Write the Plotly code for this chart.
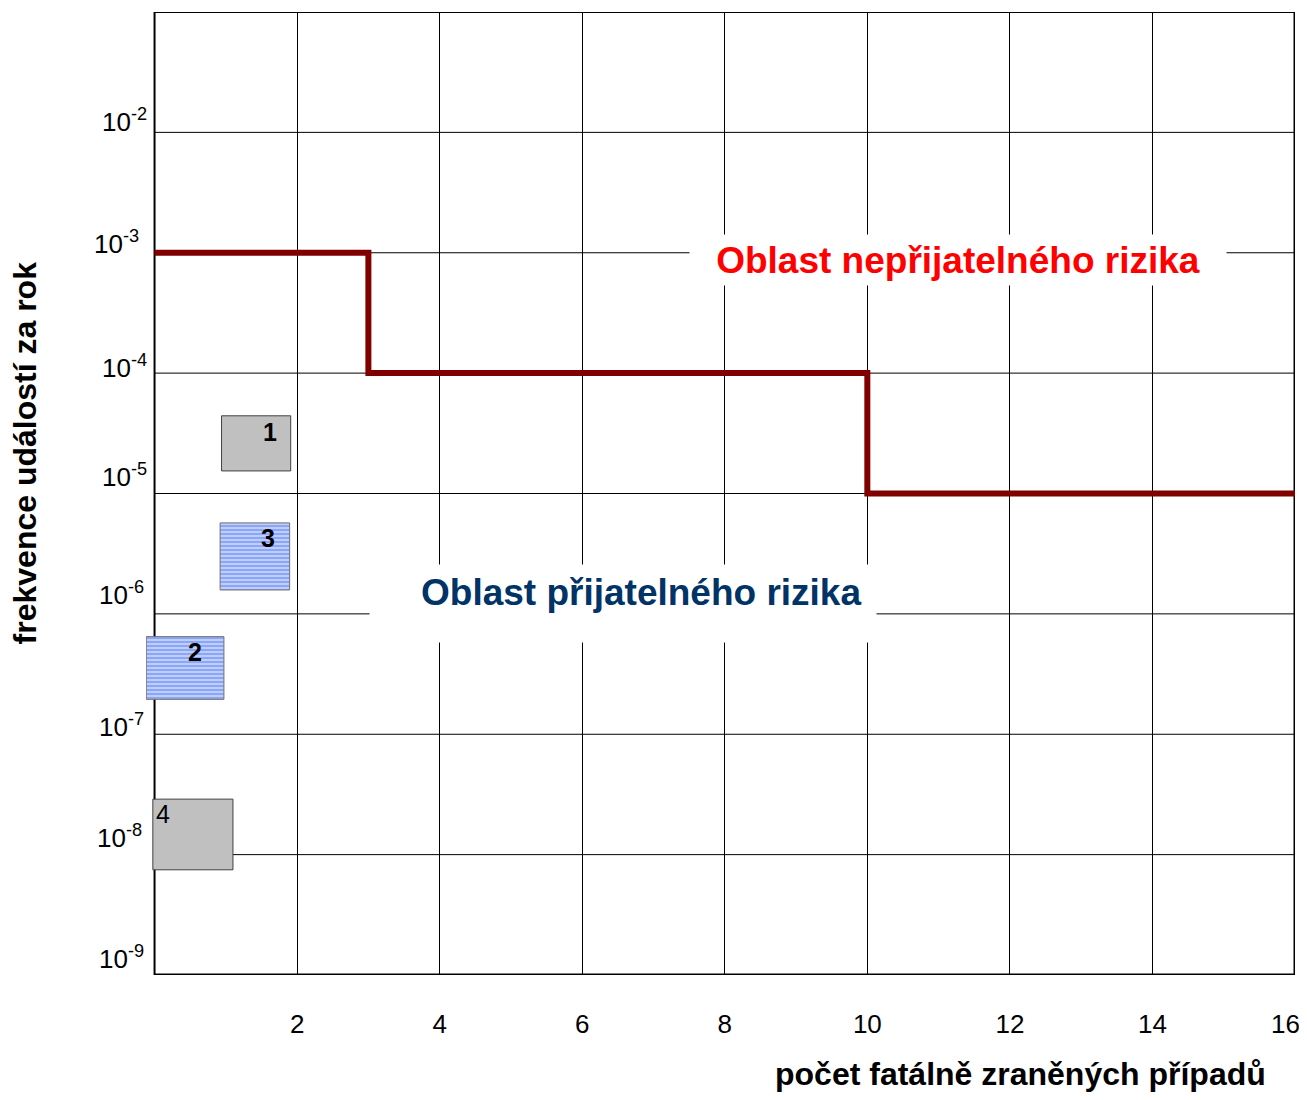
import math
import plotly.graph_objects as go

# ---------------- data ----------------
x_ticks = [2, 4, 6, 8, 10, 12, 14, 16]
x_tick_text = ["2", "4", "6", "8", "10", "12", "14", "16"]
y_decades = [-2, -3, -4, -5, -6, -7, -8, -9]          # labelled decades (10^k)
grid_decades = [-2, -3, -4, -5, -6, -7, -8]

# acceptability limit (step line)
limit_x = [0, 3, 10, 16]
limit_y = [1e-3, 1e-4, 1e-5, 1e-5]

# scenario boxes: label, x-range (fatalities), frequency range
box_labels = ["1", "3", "2", "4"]
box_x0 = [0.94, 0.92, -0.117, -0.024]
box_x1 = [1.91, 1.895, 0.973, 1.10]
box_f_low = [1.54e-5, 1.58e-6, 1.95e-7, 7.48e-9]
box_f_high = [4.42e-5, 5.70e-6, 6.47e-7, 2.89e-8]
box_kind = ["gray", "striped", "striped", "gray"]

unacceptable_text = "Oblast nepřijatelného rizika"
acceptable_text = "Oblast přijatelného rizika"
x_title = "počet fatálně zraněných případů"
y_title = "frekvence událostí za rok"

# ---------------- styles ----------------
FONT = "Arial, Liberation Sans, sans-serif"
# per-label fine offsets of y tick labels (px)
ytick_xshift = [-6, -14, -6, -6, -9, -9, -11, -9]
ytick_yshift = [12, 10, 7, 18, 20, 9, 18, 18]
# box-number label placement (px relative to box corner)
lab_anchor = ["right", "right", "right", "left"]
lab_xshift = [-21, -22, -29, 10]
lab_yshift = [-16, -15, -15, -15]
lab_bold = [True, True, True, False]

fig = go.Figure()

# scenario boxes
for i in range(len(box_labels)):
    xs = [box_x0[i], box_x1[i], box_x1[i], box_x0[i], box_x0[i]]
    ys = [box_f_low[i], box_f_low[i], box_f_high[i], box_f_high[i], box_f_low[i]]
    if box_kind[i] == "gray":
        fig.add_trace(go.Scatter(
            x=xs, y=ys, mode="lines", fill="toself",
            fillcolor="#c0c0c0", line=dict(color="#404040", width=1),
            hoverinfo="skip", showlegend=False))
    else:
        fig.add_trace(go.Scatter(
            x=xs, y=ys, mode="lines", fill="toself",
            fillcolor="#cfdcff",
            fillpattern=dict(shape="-", fgcolor="#3a66f0", bgcolor="#dde6ff",
                             size=4, solidity=0.7),
            line=dict(color="#707070", width=1),
            hoverinfo="skip", showlegend=False))

# limit step line
fig.add_trace(go.Scatter(
    x=limit_x, y=limit_y, mode="lines", line_shape="hv",
    line=dict(color="#800000", width=6), hoverinfo="skip", showlegend=False))

# horizontal grid lines + frame (drawn between grid and traces)
shapes = []
for k in grid_decades:
    shapes.append(dict(type="line", xref="x", yref="y", x0=0, x1=16,
                       y0=10 ** k, y1=10 ** k, layer="between",
                       line=dict(color="black", width=1)))
frame = [
    (0, 0, 1e-9, 1e-1, 2),
    (16, 16, 1e-9, 1e-1, 3),
    (0, 16, 1e-9, 1e-9, 3),
    (0, 16, 1e-1, 1e-1, 2),
]
for x0, x1, y0, y1, w in frame:
    shapes.append(dict(type="line", xref="x", yref="y", x0=x0, x1=x1,
                       y0=y0, y1=y1, layer="between",
                       line=dict(color="black", width=w)))

annotations = []
# y tick labels
for k, xs, ys in zip(y_decades, ytick_xshift, ytick_yshift):
    annotations.append(dict(
        x=0, y=k, xref="x", yref="y", text=f"10<sup>{k}</sup>",
        showarrow=False, xanchor="right", yanchor="middle",
        xshift=xs, yshift=ys, font=dict(family=FONT, size=26, color="black")))

# last x tick label (sits a little left of the right frame edge)
annotations.append(dict(
    x=x_ticks[-1], y=0, xref="x", yref="paper", text=x_tick_text[-1],
    showarrow=False, xanchor="center", yanchor="middle",
    xshift=-10, yshift=-49, font=dict(family=FONT, size=26, color="black")))

# box number labels
for i in range(len(box_labels)):
    xa = box_x1[i] if lab_anchor[i] == "right" else box_x0[i]
    txt = f"<b>{box_labels[i]}</b>" if lab_bold[i] else box_labels[i]
    annotations.append(dict(
        x=xa, y=math.log10(box_f_high[i]), xref="x", yref="y", text=txt,
        showarrow=False, xanchor="center", yanchor="middle",
        xshift=lab_xshift[i], yshift=lab_yshift[i],
        font=dict(family=FONT, size=25, color="black")))

# region labels
annotations.append(dict(
    x=11.27, y=-3.06, xref="x", yref="y", text=f"<b>{unacceptable_text}</b>",
    showarrow=False, bgcolor="white", width=536, height=50, borderpad=0,
    font=dict(family=FONT, size=37, color="#ff0000")))
annotations.append(dict(
    x=6.57, y=-5.913, xref="x", yref="y", text=" ",
    showarrow=False, bgcolor="white", width=506, height=77, borderpad=0,
    font=dict(family=FONT, size=20, color="white")))
annotations.append(dict(
    x=6.82, y=-5.826, xref="x", yref="y", text=f"<b>{acceptable_text}</b>",
    showarrow=False,
    font=dict(family=FONT, size=37, color="#003366")))

# axis titles
annotations.append(dict(
    x=0.7607, y=-0.1025, xref="paper", yref="paper", text=f"<b>{x_title}</b>",
    showarrow=False, xanchor="center", yanchor="middle",
    font=dict(family=FONT, size=32, color="black")))
annotations.append(dict(
    x=-0.105, y=0.542, xref="paper", yref="paper", text=f"<b>{y_title}</b>",
    showarrow=False, xanchor="center", yanchor="middle", textangle=-90,
    font=dict(family=FONT, size=32, color="black")))

# page body has an 8px margin: size the figure so it fills the window exactly
fig.update_layout(
    width=1291, height=1084,
    margin=dict(l=138, r=4, t=4, b=117),
    paper_bgcolor="white", plot_bgcolor="white",
    shapes=shapes, annotations=annotations,
    xaxis=dict(range=[-0.12, 16], tickvals=x_ticks[:-1],
               ticktext=x_tick_text[:-1],
               showgrid=True, gridcolor="black", gridwidth=1,
               zeroline=False, showline=False, ticks="",
               ticklabelstandoff=31, automargin=False,
               tickfont=dict(family=FONT, size=26, color="black")),
    yaxis=dict(type="log", range=[-9, -1], showgrid=False, zeroline=False,
               showline=False, showticklabels=False, ticks="",
               automargin=False),
    font=dict(family=FONT),
)

fig.write_html("out.html")
